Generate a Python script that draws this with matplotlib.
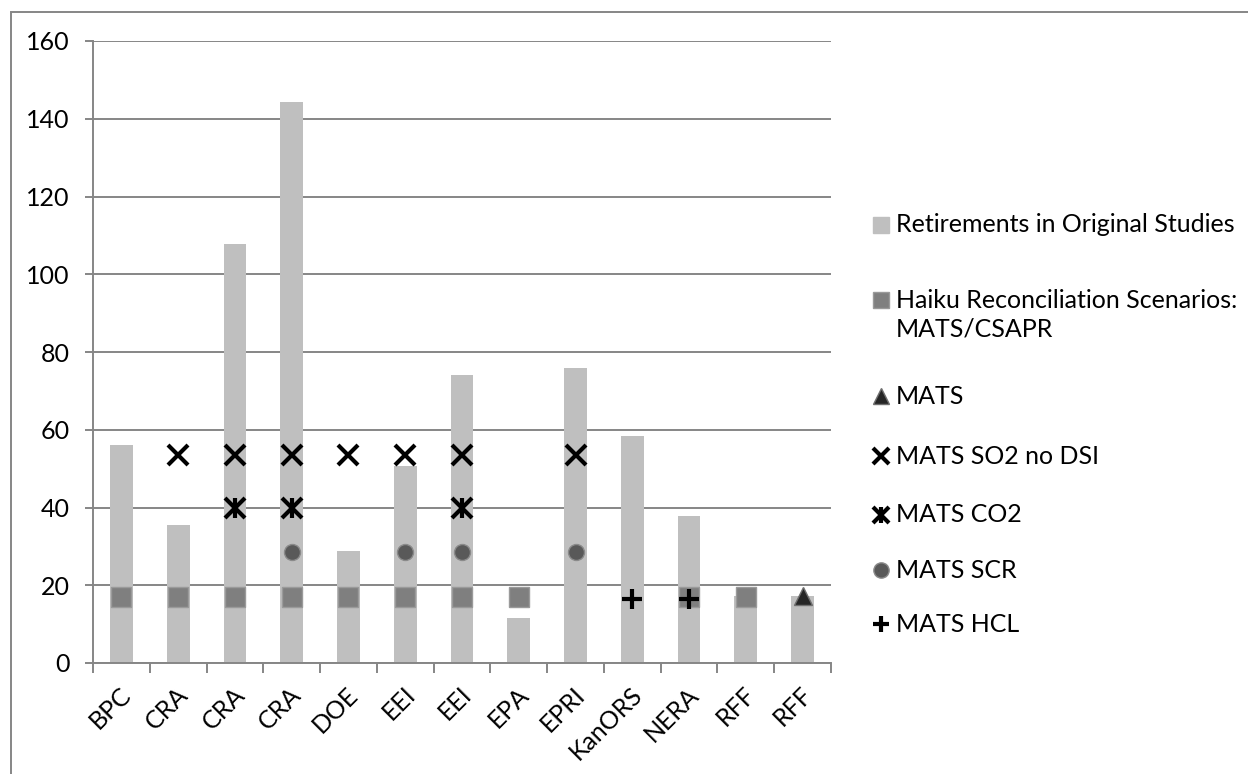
import numpy as np
import matplotlib
matplotlib.use("Agg")
import matplotlib.pyplot as plt
import matplotlib.transforms as mtransforms
from matplotlib.lines import Line2D
from matplotlib.patches import Rectangle

# ---- data ----
categories = ['BPC', 'CRA', 'CRA', 'CRA', 'DOE', 'EEI', 'EEI', 'EPA', 'EPRI',
              'KanORS', 'NERA', 'RFF', 'RFF']
retirements = [56, 35.5, 107.8, 144.3, 28.9, 50.6, 74, 11.5, 76, 58.4, 37.9, 17.2, 17.2]
nan = np.nan
haiku_mats_csapr = [17, 17, 17, 17, 17, 17, 17, 17, nan, nan, 17, 17, nan]
mats = [nan, nan, nan, nan, nan, nan, nan, nan, nan, nan, nan, nan, 17.2]
mats_so2_no_dsi = [nan, 53.5, 53.5, 53.5, 53.5, 53.5, 53.5, nan, 53.5, nan, nan, nan, nan]
mats_co2 = [nan, nan, 40, 40, nan, nan, 40, nan, nan, nan, nan, nan, nan]
mats_scr = [nan, nan, nan, 28.5, nan, 28.5, 28.5, nan, 28.5, nan, nan, nan, nan]
mats_hcl = [nan, nan, nan, nan, nan, nan, nan, nan, nan, 16.5, 16.5, nan, nan]
yticks = [0, 20, 40, 60, 80, 100, 120, 140, 160]

FONT = 'Lato'
plt.rcParams['font.family'] = [FONT, 'DejaVu Sans']
FS = 18

W, H = 1248, 774
fig = plt.figure(figsize=(W / 100, H / 100), dpi=100)
ax = fig.add_axes([93 / W, (H - 663) / H, (831 - 93) / W, (663 - 41) / H])

GRID = '#868686'
x = np.arange(len(categories))

ax.bar(x, retirements, width=0.4, color='#BFBFBF', zorder=2)
ax.plot(x, haiku_mats_csapr, ls='none', marker='s', ms=14, mfc='#7F7F7F', mec='#9a9a9a', mew=1, zorder=3)
ax.plot(x, mats, ls='none', marker='^', ms=13, mfc='#262626', mec='#6f6f6f', mew=1, zorder=3)
ax.plot(x, mats_so2_no_dsi, ls='none', marker='x', ms=14, mec='black', mew=3, zorder=3)
ax.plot(x, mats_co2, ls='none', marker='x', ms=14, mec='black', mew=3, zorder=3)
ax.plot(x, mats_co2, ls='none', marker='|', ms=14, mec='black', mew=3, zorder=3)
ax.plot(x, mats_scr, ls='none', marker='o', ms=11.5, mfc='#595959', mec='#8a8a8a', mew=1, zorder=3)
ax.plot(x, mats_hcl, ls='none', marker='+', ms=14, mec='black', mew=3, zorder=3)

ax.set_xlim(-0.5, len(categories) - 0.5)
ax.set_ylim(0, 160)
ax.set_yticks(yticks)
ax.set_yticklabels([str(v) for v in yticks], fontsize=FS)
ax.yaxis.grid(True, color=GRID, lw=1.4, zorder=1)
ax.set_axisbelow(True)
for s in ['top', 'right']:
    ax.spines[s].set_visible(False)
for s in ['left', 'bottom']:
    ax.spines[s].set_color(GRID)
    ax.spines[s].set_linewidth(1.4)
ax.tick_params(axis='y', length=6, width=1.4, color=GRID, pad=11)

ax.set_xticks(x)
ax.set_xticks(np.arange(-0.5, len(categories), 1.0), minor=True)
ax.tick_params(axis='x', which='major', length=0, pad=20)
ax.tick_params(axis='x', which='minor', length=7, width=1.4, color=GRID, direction='out')
ax.set_xticklabels(categories, rotation=45, ha='right', va='center',
                   rotation_mode='anchor', fontsize=FS)
shift = mtransforms.ScaledTranslation(6 / 100, 0, fig.dpi_scale_trans)
for lbl in ax.get_xticklabels():
    lbl.set_transform(lbl.get_transform() + shift)

# figure border (left and top edges visible)
fig.patches.append(Rectangle((11 / W, -0.05), 1.2, (H - 12) / H + 0.05,
                             transform=fig.transFigure, fill=False,
                             edgecolor=GRID, lw=1.4))

# ---- legend ----
hx = 881 / W
tx = 896 / W
def fy(py):
    return (H - py) / H

entries = [
    (225, dict(marker='s', ms=11, mfc='#BFBFBF', mec='#BFBFBF'), 'Retirements in Original Studies'),
    (300, dict(marker='s', ms=11, mfc='#7F7F7F', mec='#9a9a9a', mew=1), 'Haiku Reconciliation Scenarios:'),
    (396, dict(marker='^', ms=12, mfc='#262626', mec='#6f6f6f', mew=1), 'MATS'),
    (456, dict(marker='x', ms=11, mec='black', mew=3), 'MATS SO2 no DSI'),
    (515, dict(marker='x', ms=11, mec='black', mew=3), 'MATS CO2'),
    (570, dict(marker='o', ms=11, mfc='#595959', mec='#8a8a8a', mew=1), 'MATS SCR'),
    (624, dict(marker='+', ms=12, mec='black', mew=3), 'MATS HCL'),
]
for py, style, label in entries:
    fig.add_artist(Line2D([hx], [fy(py)], ls='none', transform=fig.transFigure, **style))
    fig.text(tx, fy(py), label, fontsize=FS, va='center', ha='left')
fig.add_artist(Line2D([hx], [fy(515)], ls='none', marker='|', ms=11, mec='black', mew=3,
                      transform=fig.transFigure))
fig.text(tx, fy(329), 'MATS/CSAPR', fontsize=FS, va='center', ha='left')

fig.savefig('out.png', dpi=100)
